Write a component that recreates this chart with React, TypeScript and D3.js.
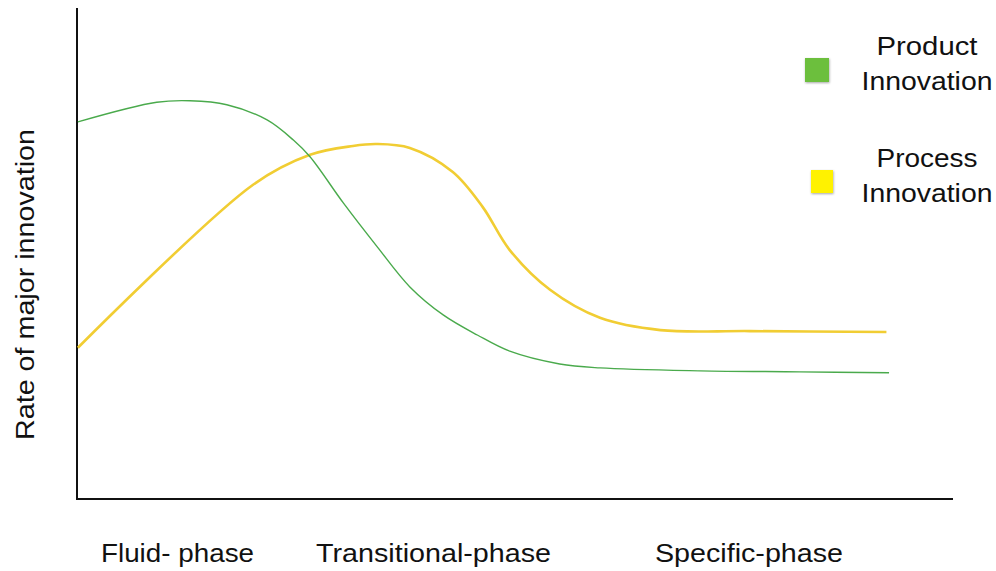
import React from "react";
import * as d3 from "d3";

const productX = [0.1, 9.1, 12.9, 17.1, 21.7, 24.7, 26.6, 30.4, 34.3, 38.0, 41.8, 45.7, 49.4, 55.1, 59.7, 71.1, 82.5, 92.7];
const productY = [76.8, 80.8, 81.1, 80.3, 77.2, 73.1, 69.7, 60.3, 51.3, 43.2, 37.5, 33.4, 30.1, 27.5, 26.7, 26.1, 25.9, 25.7];
const processX = [0.1, 20.1, 26.6, 31.5, 34.2, 38.0, 42.9, 46.3, 49.4, 54.0, 59.7, 66.6, 76.8, 92.4];
const processY = [30.8, 64.0, 70.1, 71.9, 72.3, 71.5, 66.6, 59.5, 50.7, 42.6, 36.9, 34.4, 34.2, 34.0];

const phaseLabels = ["Fluid- phase", "Transitional-phase", "Specific-phase"];
const phaseStart = [101, 316, 655];
const phaseWidth = [153, 235, 188];

const legendLabels = [["Product", "Innovation"], ["Process", "Innovation"]];
const seriesColors = ["#4aaa4c", "#f1cd33"];
const legendColors = ["#6cbf3c", "#fff200"];

const yLabel = "Rate of major innovation";

export default function App() {
  const W = 996, H = 571;
  const x = d3.scaleLinear().domain([0, 100]).range([77, 953]);
  const y = d3.scaleLinear().domain([0, 100]).range([499, 8]);
  const line = d3.line<[number, number]>()
    .x(d => x(d[0]))
    .y(d => y(d[1]))
    .curve(d3.curveCatmullRom.alpha(0.5));
  const prod = productX.map((v, i) => [v, productY[i]] as [number, number]);
  const proc = processX.map((v, i) => [v, processY[i]] as [number, number]);
  const font = "'Liberation Sans', Arial, Helvetica, sans-serif";

  return (
    <svg width={W} height={H} style={{ position: "absolute", left: 0, top: 0, background: "#fff" }}
      fontFamily={font}>
      <defs>
        <filter id="sh" x="-30%" y="-30%" width="160%" height="160%">
          <feDropShadow dx="0.5" dy="1" stdDeviation="0.8" floodColor="#000" floodOpacity="0.35" />
        </filter>
      </defs>
      <rect width={W} height={H} fill="#fff" />
      <line x1={x(0)} x2={x(0)} y1={y(100)} y2={y(0) + 1} stroke="#111" strokeWidth={2} />
      <line x1={x(0) - 1} x2={x(100)} y1={y(0)} y2={y(0)} stroke="#111" strokeWidth={2.2} />
      <path d={line(proc) || ""} fill="none" stroke={seriesColors[1]} strokeWidth={2.6} />
      <path d={line(prod) || ""} fill="none" stroke={seriesColors[0]} strokeWidth={1.4} />
      {phaseLabels.map((t, i) => (
        <text key={t} x={phaseStart[i]} y={562} fontSize={26} fill="#111"
          textLength={phaseWidth[i]} lengthAdjust="spacingAndGlyphs">{t}</text>
      ))}
      <text transform="translate(34,440) rotate(-90)" fontSize={26} fill="#111"
        textLength={311} lengthAdjust="spacingAndGlyphs">{yLabel}</text>
      <rect x={805} y={58} width={24} height={24} fill={legendColors[0]} filter="url(#sh)" />
      <rect x={811} y={170} width={22} height={23} fill={legendColors[1]} filter="url(#sh)" />
      {legendLabels.map((pair, i) => (
        <g key={i}>
          <text x={927} y={i === 0 ? 55 : 167} fontSize={26} fill="#111" textAnchor="middle"
            textLength={101} lengthAdjust="spacingAndGlyphs">{pair[0]}</text>
          <text x={927} y={i === 0 ? 90 : 202} fontSize={26} fill="#111" textAnchor="middle"
            textLength={131} lengthAdjust="spacingAndGlyphs">{pair[1]}</text>
        </g>
      ))}
    </svg>
  );
}
